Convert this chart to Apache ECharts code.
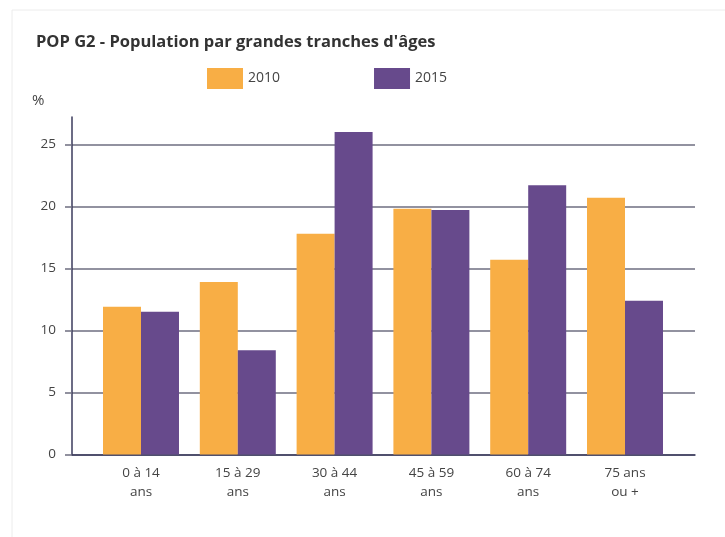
<!DOCTYPE html>
<html>
<head>
<meta charset="utf-8">
<script src="https://cdn.jsdelivr.net/npm/echarts@6/dist/echarts.min.js"></script>
<style>
html,body{margin:0;padding:0;background:#fff;}
#c{width:725px;height:537px;}
</style>
</head>
<body>
<div id="c"></div>
<script>
const categories = ['0 à 14\nans', '15 à 29\nans', '30 à 44\nans', '45 à 59\nans', '60 à 74\nans', '75 ans\nou +'];
const values2010 = [11.9, 13.9, 17.8, 19.8, 15.7, 20.7];
const values2015 = [11.5, 8.4, 26.0, 19.7, 21.7, 12.4];
const seriesNames = ['2010', '2015'];
const yTicks = [0, 5, 10, 15, 20, 25];

const FONT = '"Open Sans", "Noto Sans", sans-serif';
const chart = echarts.init(document.getElementById('c'), null, {renderer: 'canvas'});
const yMax = 27.2;
chart.setOption({
  animation: false,
  backgroundColor: '#fff',
  title: {
    text: "POP G2 - Population par grandes tranches d'âges",
    left: 31, top: 29,
    textStyle: {fontFamily: FONT, fontSize: 16.5, fontWeight: 'bold', color: '#333'}
  },
  graphic: [
    {type: 'rect', shape: {x: 12, y: 10, width: 740, height: 560}, style: {fill: 'none', stroke: '#ececec', lineWidth: 1}, silent: true},
    {type: 'text', left: 32, top: 93, style: {text: '%', fontFamily: FONT, fontSize: 15, fill: '#444'}}
  ],
  legend: {
    left: 202, top: 63,
    icon: 'rect', itemWidth: 36, itemHeight: 21, itemGap: 94,
    textStyle: {fontFamily: FONT, fontSize: 14, color: '#444'},
    data: seriesNames
  },
  color: ['#F8AE45', '#674A8C'],
  grid: [
    {left: 72, right: 30, top: 117, bottom: 82.5},
    {left: 92.6, right: 51.6, top: 117, bottom: 82.5}
  ],
  xAxis: [
    {gridIndex: 0, type: 'value', min: 0, max: 1,
      axisLine: {show: true, lineStyle: {color: '#3b3b5c', width: 1.5}},
      axisTick: {show: false}, axisLabel: {show: false}, splitLine: {show: false}},
    {gridIndex: 1, type: 'category', data: categories,
      axisLine: {show: false}, axisTick: {show: false},
      axisLabel: {margin: 9, fontFamily: FONT, fontSize: 13.5, color: '#444', lineHeight: 19}}
  ],
  yAxis: [
    {gridIndex: 0, type: 'value', min: 0, max: yMax, interval: 5,
      axisLine: {show: true, lineStyle: {color: '#3b3b5c', width: 1.5}},
      axisTick: {show: true, length: 7, lineStyle: {color: '#6e6e80', width: 1.5}},
      axisLabel: {margin: 16, fontFamily: FONT, fontSize: 13.5, color: '#444', showMaxLabel: false,
        formatter: v => yTicks.includes(v) ? String(v) : ''},
      splitLine: {show: true, showMaxLine: false, lineStyle: {color: '#6e6e80', width: 1.5}}},
    {gridIndex: 1, type: 'value', min: 0, max: yMax, interval: 5, show: false, splitLine: {show: false}}
  ],
  series: [
    {name: seriesNames[0], type: 'bar', xAxisIndex: 1, yAxisIndex: 1, data: values2010,
      barGap: '0%', barCategoryGap: '21.5%'},
    {name: seriesNames[1], type: 'bar', xAxisIndex: 1, yAxisIndex: 1, data: values2015,
      barGap: '0%', barCategoryGap: '21.5%'}
  ]
});
</script>
</body>
</html>
